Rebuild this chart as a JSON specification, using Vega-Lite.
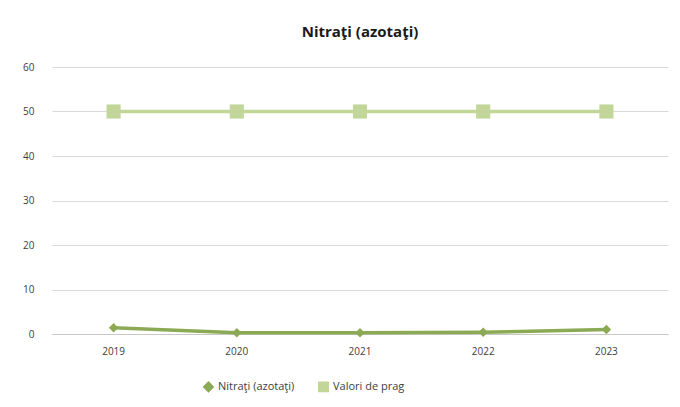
{
  "$schema": "https://vega.github.io/schema/vega-lite/v6.json",
  "width": 616,
  "height": 267,
  "autosize": {"type": "none"},
  "padding": {"left": 52, "top": 67, "right": 12, "bottom": 73},
  "background": "white",
  "title": {"text": "Nitraţi (azotaţi)", "font": "Open Sans", "fontSize": 15, "fontWeight": "bold", "color": "#1a1a1a", "offset": 22, "anchor": "middle"},
  "data": {"values": [
    {"year": "2019", "series": "Nitraţi (azotaţi)", "value": 1.4},
    {"year": "2020", "series": "Nitraţi (azotaţi)", "value": 0.3},
    {"year": "2021", "series": "Nitraţi (azotaţi)", "value": 0.3},
    {"year": "2022", "series": "Nitraţi (azotaţi)", "value": 0.4},
    {"year": "2023", "series": "Nitraţi (azotaţi)", "value": 1.0},
    {"year": "2019", "series": "Valori de prag", "value": 50},
    {"year": "2020", "series": "Valori de prag", "value": 50},
    {"year": "2021", "series": "Valori de prag", "value": 50},
    {"year": "2022", "series": "Valori de prag", "value": 50},
    {"year": "2023", "series": "Valori de prag", "value": 50}
  ]},
  "encoding": {
    "x": {"field": "year", "type": "ordinal", "scale": {"type": "band", "paddingInner": 0, "paddingOuter": 0},
      "axis": {"title": null, "labelAngle": 0, "labelFont": "Open Sans", "labelFontSize": 10, "labelColor": "#404040", "ticks": false, "domainColor": "#c8c8c8", "labelPadding": 12, "grid": false}},
    "y": {"field": "value", "type": "quantitative", "scale": {"domain": [0, 60], "nice": false},
      "axis": {"title": null, "values": [0, 10, 20, 30, 40, 50, 60], "labelFont": "Open Sans", "labelFontSize": 10, "labelColor": "#404040", "ticks": false, "domain": false, "gridColor": "#d9d9d9", "labelPadding": 18}},
    "color": {"field": "series", "type": "nominal",
      "scale": {"domain": ["Nitraţi (azotaţi)", "Valori de prag"], "range": ["#8caa55", "#c2d69a"]},
      "legend": {"title": null, "orient": "none", "legendX": 151, "legendY": 314, "direction": "horizontal", "labelFont": "Open Sans", "labelFontSize": 11, "labelColor": "#404040", "columnPadding": 20, "symbolSize": 90}}
  },
  "layer": [
    {"mark": {"type": "line", "strokeWidth": 3.5}},
    {"transform": [{"filter": "datum.series === 'Nitraţi (azotaţi)'"}],
     "mark": {"type": "point", "filled": true, "opacity": 1, "size": 90},
     "encoding": {"shape": {"field": "series", "type": "nominal", "scale": {"domain": ["Nitraţi (azotaţi)", "Valori de prag"], "range": ["diamond", "square"]}}}},
    {"transform": [{"filter": "datum.series === 'Valori de prag'"}],
     "mark": {"type": "point", "filled": true, "opacity": 1, "size": 200},
     "encoding": {"shape": {"field": "series", "type": "nominal", "scale": {"domain": ["Nitraţi (azotaţi)", "Valori de prag"], "range": ["diamond", "square"]}}}}
  ],
  "config": {"view": {"stroke": null}}
}
